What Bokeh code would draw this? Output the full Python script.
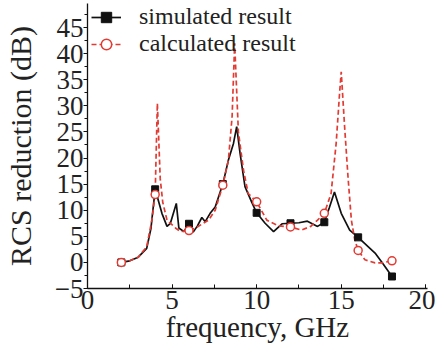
from bokeh.plotting import figure
from bokeh.models import Legend, LegendItem, SingleIntervalTicker
from bokeh.embed import file_html
from bokeh.resources import INLINE

# ---- data ----
sim_freq = [2.0, 2.5, 3.0, 3.5, 3.75, 4.0, 4.4, 4.7, 4.9, 5.25, 5.4, 5.7, 6.0, 6.25, 6.5,
            6.76, 6.96, 7.25, 7.55, 8.0, 8.33, 8.63, 8.82, 9.02, 9.31, 9.7, 10.0, 10.5,
            11.0, 11.5, 12.0, 12.5, 13.0, 13.6, 14.0, 14.3, 14.6, 15.0, 15.5, 16.0,
            17.0, 17.5, 18.0]
sim_db = [0.0, 0.3, 1.0, 2.7, 6.5, 14.0, 9.4, 6.9, 7.5, 11.3, 6.6, 5.9, 7.4, 5.8, 7.0,
          8.6, 7.8, 9.4, 10.6, 15.0, 19.6, 22.8, 26.0, 20.9, 14.5, 11.6, 9.5, 7.5,
          5.9, 7.4, 7.5, 7.6, 7.9, 6.9, 7.7, 10.5, 13.5, 9.4, 6.2, 4.8,
          1.8, -0.4, -2.7]

calc_freq = [2.0, 2.5, 3.0, 3.5, 3.8, 4.0, 4.13, 4.3, 4.45, 4.7, 5.2, 5.5, 6.0, 6.4, 6.8,
             7.16, 7.55, 8.0, 8.33, 8.55, 8.7, 8.92, 9.22, 9.5, 10.0, 10.6, 11.3, 12.0,
             12.65, 13.2, 13.6, 14.0, 14.4, 14.7, 14.9, 15.0, 15.2, 15.4, 15.6, 15.8,
             16.0, 16.4, 17.0, 17.4, 18.0]
calc_db = [0.0, 0.3, 1.0, 3.0, 8.0, 13.0, 30.5, 16.0, 11.5, 8.1, 6.6, 5.9, 6.1, 6.6, 7.4,
           8.1, 10.0, 14.8, 19.6, 28.0, 42.0, 25.0, 17.7, 13.2, 11.6, 8.1, 7.0, 6.8,
           6.2, 6.9, 8.1, 9.4, 13.2, 22.8, 32.3, 36.5, 26.0, 16.4, 8.1, 4.3,
           2.3, 0.5, -0.1, -0.1, 0.3]

marker_freq = [2, 4, 6, 8, 10, 12, 14, 16, 18]
sim_marker_db = [0.0, 14.0, 7.4, 15.0, 9.5, 7.5, 7.7, 4.8, -2.7]
calc_marker_db = [0.0, 13.0, 6.1, 14.8, 11.6, 6.8, 9.4, 2.3, 0.3]

series_labels = ["simulated result", "calculated result"]
x_label = "frequency, GHz"
y_label = "RCS reduction (dB)"

RED = "#e23b34"
BLACK = "#111111"
FONT = "Liberation Serif"

TOP = 3
BOTTOM = 64
H = 352

p = figure(width=435, height=H, x_range=(0, 20.1), y_range=(-5, 49.6),
           output_backend="svg", toolbar_location=None,
           min_border_left=86, min_border_right=8, min_border_top=TOP,
           min_border_bottom=BOTTOM)
p.outline_line_color = None
p.xgrid.visible = False
p.ygrid.visible = False
p.background_fill_color = "white"
p.border_fill_color = "white"

sim_line = p.line(sim_freq, sim_db, line_color=BLACK, line_width=1.7)
calc_line = p.line(calc_freq, calc_db, line_color=RED, line_width=1.7, line_dash="5 3")
sim_pts = p.scatter(marker_freq, sim_marker_db, marker="square", size=7,
                    fill_color=BLACK, line_color=BLACK)
calc_pts = p.scatter(marker_freq, calc_marker_db, marker="circle", size=8,
                     fill_color="white", line_color=RED, line_width=1.5)

# axes
for ax in (p.xaxis[0], p.yaxis[0]):
    ax.ticker = SingleIntervalTicker(interval=5, num_minor_ticks=2)
    ax.axis_line_color = BLACK
    ax.axis_line_width = 1.3
    ax.major_tick_line_color = BLACK
    ax.minor_tick_line_color = BLACK
    ax.major_label_text_font = FONT
    ax.major_label_text_font_size = "27px"
    ax.major_label_text_color = "#222222"
    ax.axis_label_text_font = FONT
    ax.axis_label_text_font_size = "29px"
    ax.axis_label_text_font_style = "normal"
    ax.axis_label_text_color = "#222222"

p.xaxis.axis_label = x_label
p.xaxis.major_tick_in = 4
p.xaxis.major_tick_out = 0
p.xaxis.minor_tick_in = 4
p.xaxis.minor_tick_out = 0
p.xaxis.major_label_standoff = 2
p.xaxis.axis_label_standoff = -1

p.yaxis.axis_label = y_label
p.yaxis.axis_label_text_font_size = "30px"
p.yaxis.major_tick_in = 0
p.yaxis.major_tick_out = 4
p.yaxis.minor_tick_in = 0
p.yaxis.minor_tick_out = 3
p.yaxis.major_label_standoff = 0
p.yaxis.axis_label_standoff = 15

# legends (one per row so the rows can sit close together)
frame_h = H - TOP - BOTTOM
rows = [(series_labels[0], [sim_line, sim_pts], 17),
        (series_labels[1], [calc_line, calc_pts], 44)]
for label, rends, cy in rows:
    leg = Legend(items=[LegendItem(label=label, renderers=rends)],
                 location=(4, frame_h - (cy - TOP) - 13),
                 padding=0, margin=0, spacing=0,
                 glyph_width=30, glyph_height=26, label_height=26,
                 label_standoff=18,
                 label_text_font=FONT, label_text_font_size="24px",
                 label_text_color="#222222",
                 border_line_alpha=0, background_fill_alpha=0)
    p.add_layout(leg)

open("out.html", "w").write(file_html(p, INLINE))
